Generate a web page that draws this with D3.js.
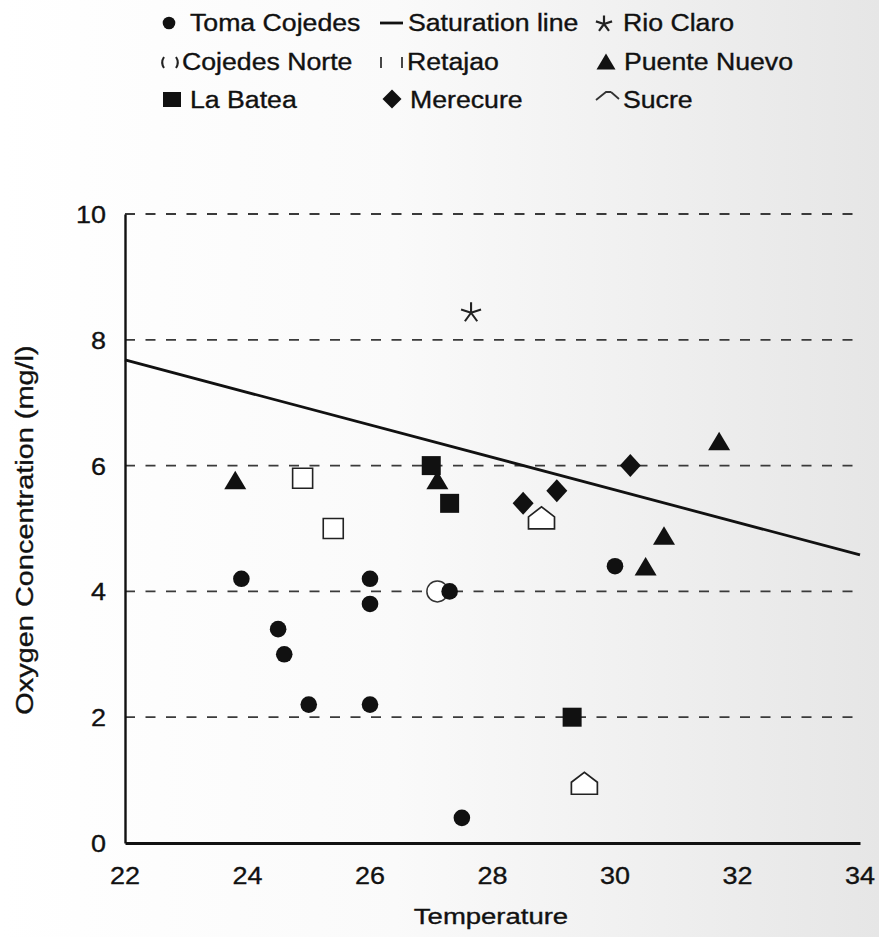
<!DOCTYPE html>
<html>
<head>
<meta charset="utf-8">
<script src="https://cdn.jsdelivr.net/npm/d3@7"></script>
<style>
  html, body { margin: 0; padding: 0; background: #fff; }
  svg { display: block; }
  text { font-family: "Liberation Sans", Arial, Helvetica, sans-serif; fill: #111; stroke: #111; stroke-width: 0.35px; }
</style>
</head>
<body>
<svg id="chart" width="879" height="937"></svg>
<script>
// ---------------- data ----------------
const xTicks = [22, 24, 26, 28, 30, 32, 34];
const yTicks = [0, 2, 4, 6, 8, 10];
const yGrid = [2, 4, 6, 8, 10];

const tomaT = [23.9, 24.5, 24.6, 25.0, 26.0, 26.0, 26.0, 27.3, 27.5, 30.0];
const tomaO = [4.2, 3.4, 3.0, 2.2, 4.2, 3.8, 2.2, 4.0, 0.4, 4.4];

const norteT = [27.1];
const norteO = [4.0];

const batT = [27.0, 27.3, 29.3];
const batO = [6.0, 5.4, 2.0];

const satT = [22, 34];
const satO = [7.68, 4.58];

const retT = [24.9, 25.4];
const retO = [5.8, 5.0];

const merT = [28.5, 29.05, 30.25];
const merO = [5.4, 5.6, 6.0];

const rioT = [27.65];
const rioO = [8.43];

const pueT = [23.8, 27.1, 30.5, 30.8, 31.7];
const pueO = [5.75, 5.75, 4.38, 4.87, 6.37];

const sucT = [28.8, 29.5];
const sucO = [5.17, 0.95];

const legendNames = ["Toma Cojedes", "Saturation line", "Rio Claro",
                     "Cojedes Norte", "Retajao", "Puente Nuevo",
                     "La Batea", "Merecure", "Sucre"];

// ---------------- layout ----------------
const svg = d3.select("#chart");
const W = 879, H = 937;
const mLeft = 125, mRight = 860, mTop = 214, mBottom = 843;

const x = d3.scaleLinear().domain([22, 34]).range([mLeft, mRight]);
const y = d3.scaleLinear().domain([0, 10]).range([mBottom, mTop]);

// background (scanned paper tint)
const defs = svg.append("defs");
const grad = defs.append("linearGradient").attr("id", "bg").attr("x1", "0").attr("x2", "1").attr("y1", "0").attr("y2", "0");
grad.append("stop").attr("offset", "0%").attr("stop-color", "#ffffff");
grad.append("stop").attr("offset", "45%").attr("stop-color", "#fafafa");
grad.append("stop").attr("offset", "100%").attr("stop-color", "#e6e6e6");
svg.append("rect").attr("width", W).attr("height", H).attr("fill", "url(#bg)");

function stext(g, px, py, str, size, sx, anchor) {
  return g.append("text")
    .attr("transform", `translate(${px},${py}) scale(${sx},1)`)
    .attr("text-anchor", anchor || "start")
    .attr("font-size", size)
    .text(str);
}

// gridlines
svg.append("g").selectAll("line").data(yGrid).join("line")
  .attr("x1", mLeft).attr("x2", mRight - 2)
  .attr("y1", d => y(d)).attr("y2", d => y(d))
  .attr("stroke", "#3a3a3a").attr("stroke-width", 1.8)
  .attr("stroke-dasharray", "10,10.5");

// axes (lines, no tick marks)
const xAxis = d3.axisBottom(x).tickValues(xTicks).tickSize(0).tickFormat("");
const yAxis = d3.axisLeft(y).tickValues(yTicks).tickSize(0).tickFormat("");
const gx = svg.append("g").attr("transform", `translate(0,${mBottom})`).call(xAxis);
gx.select(".domain").attr("stroke", "#111").attr("stroke-width", 2.8);
const gy = svg.append("g").attr("transform", `translate(${mLeft},0)`).call(yAxis);
gy.select(".domain").attr("stroke", "#111").attr("stroke-width", 2.4);

// tick labels
const tl = svg.append("g");
yTicks.forEach(v => stext(tl, 106, y(v) + 9, String(v), 24.5, 1.1, "end"));
xTicks.forEach(v => stext(tl, x(v), 884, String(v), 24.5, 1.1, "middle"));

// axis titles
svg.append("text")
  .attr("transform", `translate(33,530) rotate(-90) scale(1.23,1)`)
  .attr("text-anchor", "middle").attr("font-size", 23.5)
  .text("Oxygen Concentration (mg/l)");
stext(svg, 491, 924, "Temperature", 22, 1.25, "middle");

// saturation line
const satData = satT.map((t, i) => [t, satO[i]]);
svg.append("path").datum(satData)
  .attr("d", d3.line().x(d => x(d[0])).y(d => y(d[1])))
  .attr("fill", "none").attr("stroke", "#111").attr("stroke-width", 2.8);

// marker shapes
const shapes = {
  circle: "M -8.3,0 A 8.3,8.3 0 1,0 8.3,0 A 8.3,8.3 0 1,0 -8.3,0 Z",
  openCircle: "M -10.5,0 A 10.5,10.5 0 1,0 10.5,0 A 10.5,10.5 0 1,0 -10.5,0 Z",
  square: "M -9.5,-9.5 H 9.5 V 9.5 H -9.5 Z",
  openSquare: "M -10,-10 H 10 V 10 H -10 Z",
  triangle: "M 0,-10.5 L 11,8 L -11,8 Z",
  diamond: "M 0,-11.5 L 10.5,0 L 0,11.5 L -10.5,0 Z",
  house: "M -13,11 L 13,11 L 13,-1 L 0,-11 L -13,-1 Z"
};

function plot(ts, os, shape, fill, stroke, sw) {
  const data = ts.map((t, i) => [t, os[i]]);
  svg.append("g").selectAll("path").data(data).join("path")
    .attr("transform", d => `translate(${x(d[0])},${y(d[1])})`)
    .attr("d", shapes[shape])
    .attr("fill", fill).attr("stroke", stroke).attr("stroke-width", sw);
}

plot(retT, retO, "openSquare", "#fff", "#222", 1.6);
plot(norteT, norteO, "openCircle", "#fff", "#333", 1.5);
plot(sucT, sucO, "house", "#fff", "#222", 1.7);
plot(batT, batO, "square", "#111", "none", 0);
plot(pueT, pueO, "triangle", "#111", "none", 0);
plot(tomaT, tomaO, "circle", "#111", "none", 0);
plot(merT, merO, "diamond", "#111", "none", 0);

// Rio Claro asterisk
function starPath(r) {
  let p = "";
  for (let k = 0; k < 5; k++) {
    const a = (-90 + 72 * k) * Math.PI / 180;
    p += `M 0,0 L ${(r * Math.cos(a)).toFixed(2)},${(r * Math.sin(a)).toFixed(2)} `;
  }
  return p;
}
svg.append("g").selectAll("path").data(rioT.map((t, i) => [t, rioO[i]])).join("path")
  .attr("transform", d => `translate(${x(d[0])},${y(d[1])})`)
  .attr("d", starPath(10.5))
  .attr("fill", "none").attr("stroke", "#222").attr("stroke-width", 2.1);

// ---------------- legend ----------------
const lg = svg.append("g");
const rowY = [31, 70, 108];
const fs = 23, sx = 1.16;

// row 1
lg.append("circle").attr("cx", 169).attr("cy", 23).attr("r", 6.3).attr("fill", "#111");
stext(lg, 190, rowY[0], legendNames[0], fs, sx);
lg.append("line").attr("x1", 380).attr("x2", 403).attr("y1", 23).attr("y2", 23)
  .attr("stroke", "#111").attr("stroke-width", 2.8);
stext(lg, 408, rowY[0], legendNames[1], fs, sx);
lg.append("path").attr("transform", "translate(604,24)").attr("d", starPath(8.5))
  .attr("fill", "none").attr("stroke", "#222").attr("stroke-width", 2.2);
stext(lg, 623, rowY[0], legendNames[2], fs, sx);

// row 2
lg.append("path").attr("d", "M 164,57 A 10,10 0 0,0 164,68 M 176,57 A 10,10 0 0,1 176,68")
  .attr("fill", "none").attr("stroke", "#222").attr("stroke-width", 2);
stext(lg, 182, rowY[1], legendNames[3], fs, sx);
lg.append("path").attr("d", "M 381,57 V 68 M 402,57 V 68")
  .attr("fill", "none").attr("stroke", "#333").attr("stroke-width", 1.8);
stext(lg, 407, rowY[1], legendNames[4], fs, sx);
lg.append("path").attr("transform", "translate(606,62)").attr("d", "M 0,-8.5 L 9.5,7.5 L -9.5,7.5 Z").attr("fill", "#111");
stext(lg, 624, rowY[1], legendNames[5], fs, sx);

// row 3
lg.append("rect").attr("x", 163).attr("y", 92).attr("width", 18).attr("height", 15).attr("fill", "#111");
stext(lg, 190, rowY[2], legendNames[6], fs, sx);
lg.append("path").attr("transform", "translate(392,99)").attr("d", "M 0,-9.5 L 9.5,0 L 0,9.5 L -9.5,0 Z").attr("fill", "#111");
stext(lg, 410, rowY[2], legendNames[7], fs, sx);
lg.append("path").attr("d", "M 596,100 L 606,92 L 611,92 M 611,92 L 619,99")
  .attr("fill", "none").attr("stroke", "#333").attr("stroke-width", 1.8);
stext(lg, 623, rowY[2], legendNames[8], fs, sx);
</script>
</body>
</html>
